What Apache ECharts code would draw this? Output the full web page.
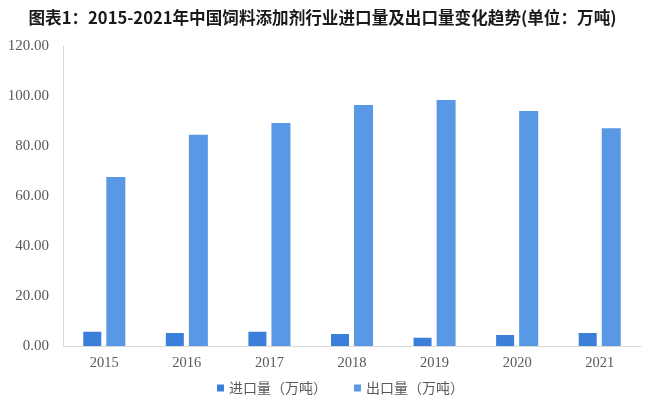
<!DOCTYPE html>
<html>
<head>
<meta charset="utf-8">
<script src="https://cdn.jsdelivr.net/npm/echarts@6/dist/echarts.min.js"></script>
<style>html,body{margin:0;padding:0;background:#fff;}#c{width:645px;height:407px;}</style>
</head>
<body>
<div id="c"></div>
<script>
const categories = ['2015','2016','2017','2018','2019','2020','2021'];
const importVals = [5.7, 5.2, 5.7, 4.8, 3.3, 4.4, 5.2];
const exportVals = [67.6, 84.5, 89.2, 96.4, 98.4, 94.0, 87.1];
const seriesNames = ['进口量（万吨）', '出口量（万吨）'];
const titleText = '图表1：2015-2021年中国饲料添加剂行业进口量及出口量变化趋势(单位：万吨)';

const chart = echarts.init(document.getElementById('c'));
chart.setOption({
  backgroundColor: '#fff',
  animation: false,
  title: {
    text: titleText, left: 'center', top: 4,
    textStyle: { fontFamily: 'Noto Sans CJK SC', fontWeight: 'bold', fontSize: 16.6, color: '#1a1a1a' }
  },
  legend: {
    bottom: 7, left: 212, itemWidth: 7, itemHeight: 7, itemGap: 27, icon: 'rect',
    textStyle: { fontFamily: 'Noto Sans CJK SC', fontSize: 14, color: '#595959' },
    data: seriesNames
  },
  grid: { left: 63, right: 4, top: 46, bottom: 61 },
  xAxis: {
    type: 'category', data: categories,
    axisLine: { lineStyle: { color: '#d9d9d9' } },
    axisTick: { show: false },
    axisLabel: { fontFamily: 'Liberation Serif', fontSize: 14.5, color: '#595959', margin: 10 }
  },
  yAxis: {
    type: 'value', min: 0, max: 120, interval: 20,
    axisLine: { show: true, lineStyle: { color: '#d9d9d9' } },
    splitLine: { show: false },
    axisLabel: { fontFamily: 'Liberation Serif', fontSize: 15, color: '#595959', margin: 14,
      formatter: v => v.toFixed(2) }
  },
  series: [
    { name: seriesNames[0], type: 'bar', data: importVals, barWidth: 18, barGap: '28%',
      itemStyle: { color: '#3C7FDA' } },
    { name: seriesNames[1], type: 'bar', data: exportVals, barWidth: 19,
      itemStyle: { color: '#5898E4' } }
  ]
});
</script>
</body>
</html>
